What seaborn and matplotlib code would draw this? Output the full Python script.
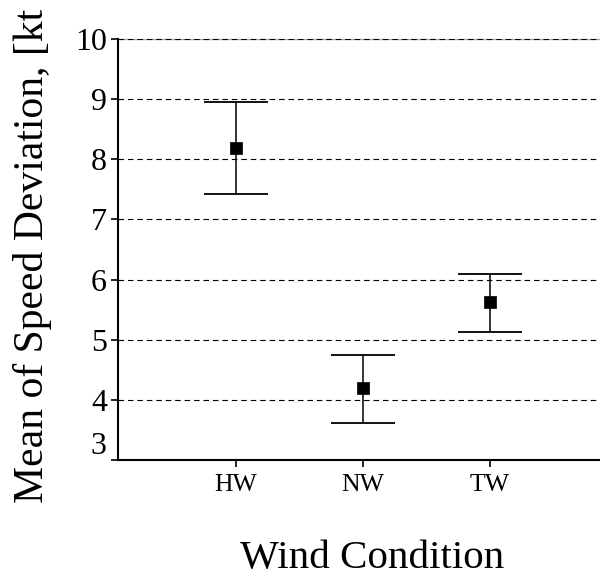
import matplotlib
matplotlib.use("Agg")
import matplotlib.pyplot as plt
import matplotlib.transforms as mtransforms
import numpy as np
import pandas as pd
import seaborn as sns

# Mean speed deviation per wind condition, with interval bounds
conditions = ["HW", "NW", "TW"]
means = [8.18, 4.20, 5.62]
lower = [7.42, 3.62, 5.13]
upper = [8.96, 4.75, 6.10]
y_ticks = [3, 4, 5, 6, 7, 8, 9, 10]

df = pd.DataFrame({"condition": conditions, "mean": means,
                   "lower": lower, "upper": upper})

sns.set_theme(style="white")
plt.rcParams["font.family"] = ["Liberation Serif", "DejaVu Serif"]

fig = plt.figure(figsize=(6.0, 5.78), dpi=100)
W, H = 600, 578
ax = fig.add_axes([118 / W, 1 - 460 / H, (600 - 118) / W, (460 - 39) / H])

x = np.arange(len(conditions))
df["x"] = x

# faint frame line along the top, then dashed horizontal reference lines
ax.axhline(y_ticks[-1], color="0.65", lw=0.9, zorder=0.5, clip_on=False)
for t in y_ticks[1:]:
    ax.axhline(t, color="black", lw=0.8, ls=(0, (5, 3.5)), zorder=1)

# interval whiskers with caps
ax.errorbar(df["x"], df["mean"],
            yerr=[df["mean"] - df["lower"], df["upper"] - df["mean"]],
            fmt="none", ecolor="black", elinewidth=1.1, capsize=23,
            capthick=1.3, zorder=2)

# mean markers
sns.scatterplot(data=df, x="x", y="mean", marker="s", s=75, color="black",
                edgecolor="black", linewidth=0.5, ax=ax, zorder=3, legend=False)

ax.set_xlim(-0.929, 2.866)
ax.set_ylim(3, 10)
ax.set_xticks(x)
ax.set_xticklabels(conditions, fontsize=18.5)
ax.set_yticks(y_ticks)
ax.set_yticklabels([str(t) for t in y_ticks], fontsize=23)
ax.set_xlabel("")
ax.set_ylabel("")

for side in ["top", "right"]:
    ax.spines[side].set_visible(False)
for side in ["left", "bottom"]:
    ax.spines[side].set_color("black")
    ax.spines[side].set_linewidth(1.5)

ax.tick_params(axis="y", which="major", direction="out", length=5, width=1.2,
               color="black", pad=3, left=True, labelcolor="black")
ax.tick_params(axis="x", which="major", direction="out", length=5, width=1.2,
               color="black", pad=5, bottom=True, labelcolor="black")

# lift the lowest y label clear of the x axis
lbl3 = ax.get_yticklabels()[0]
lbl3.set_transform(lbl3.get_transform() +
                   mtransforms.ScaledTranslation(0, 17 / 100, fig.dpi_scale_trans))

fig.text(372 / W, 1 - 568 / H, "Wind Condition", fontsize=29.5,
         ha="center", va="baseline", color="black")
ylab = fig.text(33 / W, 1 - 503 / H, "Mean of Speed Deviation, [kts]",
                fontsize=30, rotation=90, ha="center", va="bottom",
                color="black", clip_on=True)
# the label box ends just below the top edge
ylab.set_clip_box(mtransforms.Bbox.from_extents(0, 0, W, H - 10))

fig.savefig("out.png", dpi=100, facecolor="white")
